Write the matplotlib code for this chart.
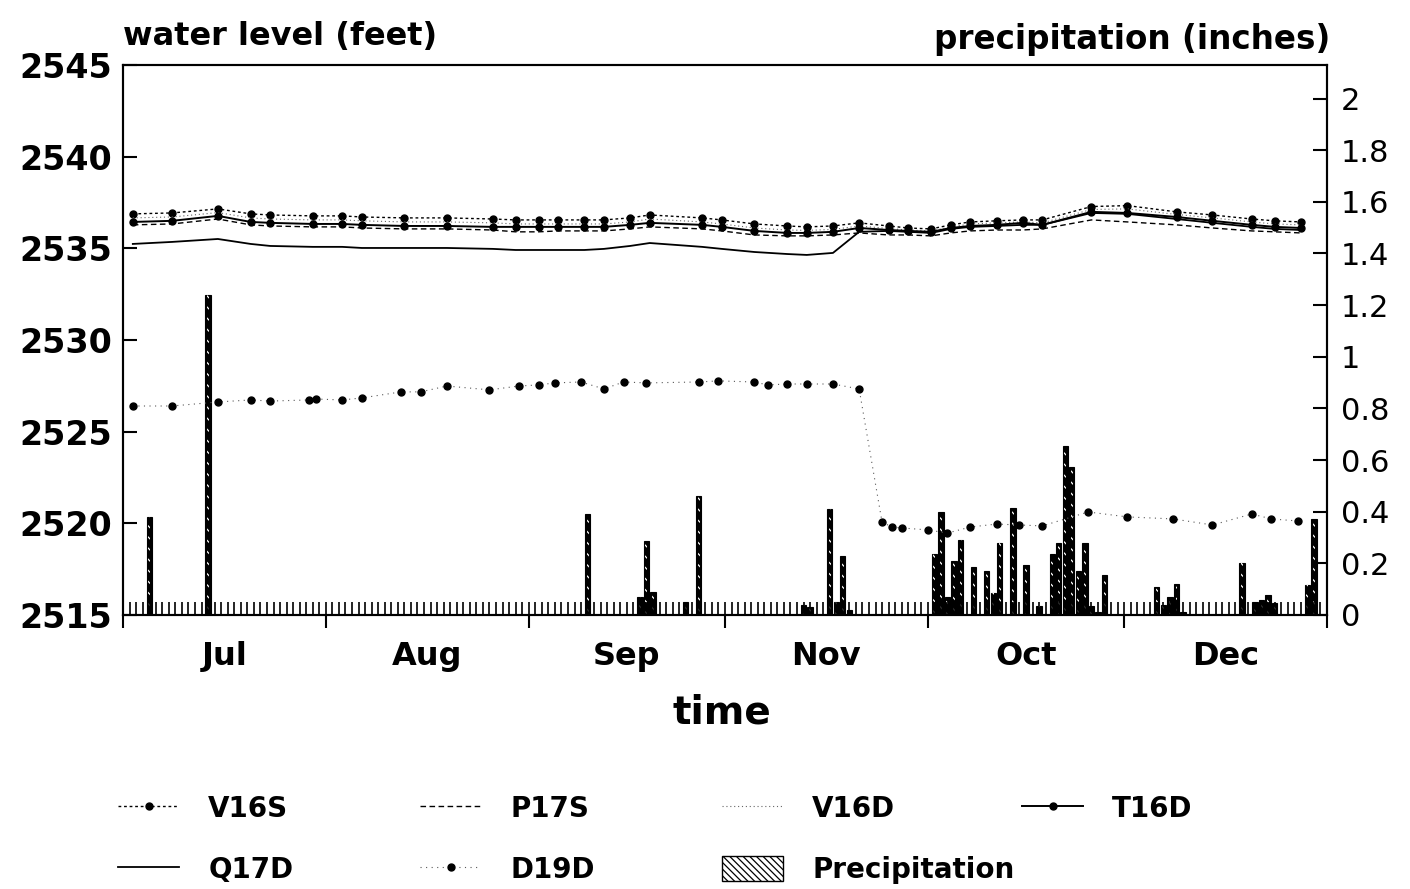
import matplotlib.pyplot as plt
from matplotlib.patches import Patch
from matplotlib.ticker import MultipleLocator

plt.rcParams['font.family'] = 'DejaVu Sans'
plt.rcParams['hatch.linewidth'] = 0.9

# time axis in days counted from July 1
month_starts = [0, 31, 62, 92, 123, 153, 184]
month_mids = [15.5, 46.5, 77, 107.5, 138, 168.5]
month_names = ['Jul', 'Aug', 'Sep', 'Nov', 'Oct', 'Dec']

# water levels of the shallow/deep wells (feet)
well_days = [1.5, 7.5, 14.5, 19.5, 22.5, 29, 33.5, 36.5, 43, 49.5,
             56.5, 60, 63.5, 66.5, 70.5, 73.5, 77.5, 80.5, 88.5, 91.5,
             96.5, 101.5, 104.5, 108.5, 112.5, 117, 120, 123.5, 126.5, 129.5,
             133.5, 137.5, 140.5, 148, 153.5, 161, 166.5, 172.5, 176, 180]
v16s = [2536.88, 2536.93, 2537.15, 2536.88, 2536.82, 2536.77, 2536.77, 2536.71, 2536.66, 2536.66,
        2536.60, 2536.55, 2536.55, 2536.55, 2536.55, 2536.55, 2536.66, 2536.82, 2536.66, 2536.55,
        2536.33, 2536.22, 2536.17, 2536.22, 2536.39, 2536.22, 2536.11, 2536.06, 2536.28, 2536.44,
        2536.50, 2536.55, 2536.55, 2537.28, 2537.33, 2536.99, 2536.82, 2536.60, 2536.50, 2536.44]
v16d = [2536.66, 2536.71, 2536.95, 2536.66, 2536.60, 2536.55, 2536.55, 2536.50, 2536.44, 2536.44,
        2536.39, 2536.33, 2536.33, 2536.33, 2536.33, 2536.33, 2536.44, 2536.60, 2536.44, 2536.33,
        2536.11, 2536.00, 2535.98, 2536.03, 2536.22, 2536.08, 2536.00, 2535.95, 2536.17, 2536.33,
        2536.39, 2536.44, 2536.39, 2537.12, 2537.15, 2536.85, 2536.66, 2536.44, 2536.33, 2536.28]
t16d = [2536.44, 2536.50, 2536.77, 2536.44, 2536.39, 2536.33, 2536.33, 2536.28, 2536.22, 2536.22,
        2536.17, 2536.17, 2536.17, 2536.17, 2536.17, 2536.17, 2536.28, 2536.39, 2536.28, 2536.17,
        2535.95, 2535.84, 2535.84, 2535.90, 2536.11, 2536.00, 2535.95, 2535.90, 2536.11, 2536.22,
        2536.28, 2536.39, 2536.28, 2536.99, 2536.93, 2536.71, 2536.50, 2536.28, 2536.17, 2536.11]
p17s = [2536.28, 2536.33, 2536.60, 2536.28, 2536.22, 2536.17, 2536.17, 2536.11, 2536.06, 2536.06,
        2536.00, 2535.90, 2535.90, 2535.95, 2535.95, 2535.95, 2536.06, 2536.17, 2536.06, 2535.95,
        2535.73, 2535.68, 2535.68, 2535.73, 2535.84, 2535.73, 2535.73, 2535.68, 2535.84, 2535.95,
        2536.00, 2536.00, 2536.06, 2536.55, 2536.44, 2536.28, 2536.11, 2535.95, 2535.90, 2535.84]
q17d = [2535.24, 2535.35, 2535.51, 2535.24, 2535.13, 2535.08, 2535.08, 2535.02, 2535.02, 2535.02,
        2534.97, 2534.91, 2534.91, 2534.91, 2534.91, 2534.97, 2535.13, 2535.29, 2535.08, 2534.97,
        2534.80, 2534.69, 2534.64, 2534.75, 2535.90, 2535.95, 2535.90, 2535.84, 2536.06, 2536.17,
        2536.22, 2536.28, 2536.28, 2536.93, 2536.88, 2536.60, 2536.39, 2536.17, 2536.06, 2536.00]

d19d_days = [1.5, 7.5, 14.5, 19.5, 22.5, 28.5, 29.5, 33.5, 36.5, 42.5, 45.5,
             49.5, 56, 60.5, 63.5, 66, 70, 73.5, 76.5, 80, 88, 91,
             96.5, 98.5, 101.5, 104.5, 108.5, 112.5, 116, 117.5, 119, 123,
             126, 129.5, 133.5, 137, 140.5, 147.5, 153.5, 160.5, 166.5, 172.5, 175.5, 179.5]
d19d = [2526.40, 2526.40, 2526.62, 2526.73, 2526.67, 2526.73, 2526.78, 2526.73, 2526.84, 2527.17, 2527.17,
        2527.49, 2527.28, 2527.49, 2527.55, 2527.66, 2527.71, 2527.33, 2527.71, 2527.66, 2527.71, 2527.77,
        2527.71, 2527.55, 2527.60, 2527.60, 2527.60, 2527.33, 2520.07, 2519.80, 2519.75, 2519.64,
        2519.47, 2519.80, 2519.96, 2519.91, 2519.86, 2520.62, 2520.35, 2520.24, 2519.91, 2520.51, 2520.24, 2520.13]

# daily precipitation (inches)
rain_days = [4, 13, 71, 79, 80, 81, 86, 88, 104, 105, 108, 109, 110, 111,
             124, 125, 126, 127, 128, 130, 132, 133, 134, 136, 138, 140,
             142, 143, 144, 145, 146, 147, 148, 149, 150, 158, 159, 160, 161, 162,
             171, 173, 174, 175, 176, 181, 182]
rain_inches = [0.38, 1.24, 0.39, 0.07, 0.285, 0.09, 0.05, 0.46, 0.04, 0.03, 0.41, 0.05, 0.23, 0.02,
               0.235, 0.40, 0.07, 0.21, 0.29, 0.185, 0.17, 0.085, 0.28, 0.415, 0.195, 0.035,
               0.235, 0.28, 0.655, 0.575, 0.17, 0.28, 0.035, 0.01, 0.155, 0.11, 0.04, 0.07, 0.12, 0.01,
               0.20, 0.05, 0.06, 0.077, 0.047, 0.115, 0.37]

level_ticks = [2515, 2520, 2525, 2530, 2535, 2540, 2545]
precip_ticks = [0, 0.2, 0.4, 0.6, 0.8, 1, 1.2, 1.4, 1.6, 1.8, 2]
precip_labels = ['0', '0.2', '0.4', '0.6', '0.8', '1', '1.2', '1.4', '1.6', '1.8', '2']

fig = plt.figure(figsize=(14.1, 8.89), dpi=100)
ax = fig.add_axes([123 / 1410, 1 - 615 / 889, 1204 / 1410, 550 / 889])
ax2 = ax.twinx()
ax.set_zorder(ax2.get_zorder() + 1)
ax.patch.set_visible(False)

# precipitation bars on the right axis: dark columns with a light hatch core
ax2.bar(rain_days, rain_inches, width=0.8, color='black', edgecolor='black', linewidth=0.8)
ax2.bar(rain_days, rain_inches, width=0.3, fill=False, edgecolor='white', linewidth=0,
        hatch='\\\\\\')

# well hydrographs on the left axis
l_v16s, = ax.plot(well_days, v16s, color='black', lw=1.0, ls=(0, (2, 2)), marker='o', ms=5, label='V16S')
l_p17s, = ax.plot(well_days, p17s, color='black', lw=1.0, ls=(0, (4, 2.5)), label='P17S')
l_v16d, = ax.plot(well_days, v16d, color='0.4', lw=0.8, ls=(0, (1, 2.5)), label='V16D')
l_t16d, = ax.plot(well_days, t16d, color='black', lw=1.4, marker='o', ms=5, label='T16D')
l_q17d, = ax.plot(well_days, q17d, color='black', lw=1.3, label='Q17D')
l_d19d, = ax.plot(d19d_days, d19d, color='0.35', lw=0.8, ls=(0, (1, 4)), marker='o', ms=5,
                  mfc='black', mec='black', label='D19D')
h_rain = Patch(facecolor='white', edgecolor='black', hatch='\\\\\\\\\\', label='Precipitation')

ax.set_xlim(0, 184)
ax.set_ylim(2515, 2545)
ax2.set_ylim(0, 2.13)

ax.set_xticks(month_starts)
ax.set_xticklabels([])
ax.xaxis.set_minor_locator(MultipleLocator(1))
ax.xaxis.remove_overlapping_locs = False
ax.tick_params(axis='x', which='major', direction='out', length=9, width=1.5, top=False)
ax.tick_params(axis='x', which='minor', direction='in', length=9.5, width=1.2, top=False)

ax.set_yticks(level_ticks)
ax.set_yticklabels([str(v) for v in level_ticks], fontsize=24, fontweight='bold')
ax.tick_params(axis='y', direction='in', length=10, width=1.5, pad=8)

ax2.set_yticks(precip_ticks)
ax2.set_yticklabels(precip_labels, fontsize=22)
ax2.tick_params(axis='y', direction='in', length=10, width=1.5, pad=10)

for a in (ax, ax2):
    for s in a.spines.values():
        s.set_linewidth(1.5)

for m, name in zip(month_mids, month_names):
    ax.text(m, -0.075, name, transform=ax.get_xaxis_transform(), ha='center', va='center',
            fontsize=23, fontweight='bold')

fig.text(722 / 1410, 1 - 713 / 889, 'time', ha='center', va='center', fontsize=28, fontweight='bold')
fig.text(123 / 1410, 1 - 36 / 889, 'water level (feet)', ha='left', va='center', fontsize=23, fontweight='bold')
fig.text(1330 / 1410, 1 - 40 / 889, 'precipitation (inches)', ha='right', va='center', fontsize=23.5,
         fontweight='bold')

# legend laid out as four columns under the plot
columns = [([l_v16s, l_q17d], 118), ([l_p17s, l_d19d], 420), ([l_v16d, h_rain], 722), ([l_t16d], 1022)]
for handles, x in columns:
    fig.legend(handles=handles, loc='upper left', bbox_to_anchor=(x / 1410, 1 - 795 / 889),
               frameon=False, prop={'size': 20, 'weight': 'bold'}, handlelength=2.2,
               handleheight=1.0, handletextpad=1.05, labelspacing=1.2, borderpad=0,
               borderaxespad=0, numpoints=1)

fig.savefig('out.png', dpi=100)
